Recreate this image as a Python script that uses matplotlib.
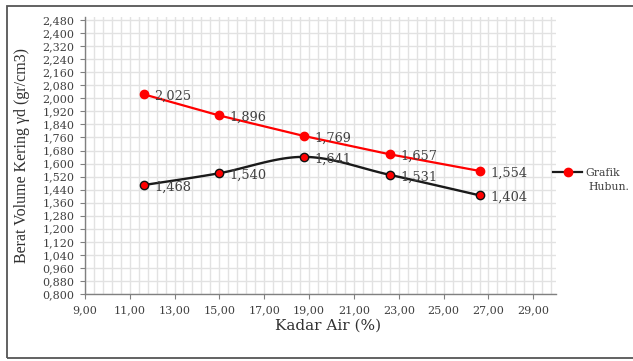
import numpy as np
import matplotlib
matplotlib.use("Agg")
import matplotlib.pyplot as plt
from matplotlib.ticker import FixedLocator, FuncFormatter
from matplotlib.patches import Rectangle
from matplotlib.lines import Line2D

kadar_air = [11.63, 14.97, 18.78, 22.59, 26.63]
gd_zav = [2.025, 1.896, 1.769, 1.657, 1.554]
gd_hub = [1.468, 1.540, 1.641, 1.531, 1.404]
legend_label = ["Grafik", "Hubun."]
xlabel = "Kadar Air (%)"
ylabel = "Berat Volume Kering γd (gr/cm3)"

plt.rcParams['font.family'] = ['DejaVu Serif', 'Liberation Serif']

def fmt(v, d):
    return f"{v:.{d}f}".replace(".", ",")

def catmull(x, y, n=30):
    x = np.asarray(x, float); y = np.asarray(y, float)
    P = np.column_stack([x, y])
    P = np.vstack([P[0], P, P[-1]])
    out = []
    for i in range(1, len(P) - 2):
        p0, p1, p2, p3 = P[i-1], P[i], P[i+1], P[i+2]
        t = np.linspace(0, 1, n)[:, None]
        seg = 0.5 * ((2*p1) + (-p0 + p2)*t + (2*p0 - 5*p1 + 4*p2 - p3)*t**2 + (-p0 + 3*p1 - 3*p2 + p3)*t**3)
        out.append(seg)
    out = np.vstack(out)
    return out[:, 0], out[:, 1]

fig = plt.figure(figsize=(6.33, 3.61), dpi=100)
ax = fig.add_axes([0.134, 0.186, 0.744, 0.767])

ax.set_xlim(9, 30)
ax.set_ylim(0.8, 2.5)
ax.set_xticks(np.arange(9, 29.01, 2))
ax.xaxis.set_minor_locator(FixedLocator(np.arange(9, 30.01, 0.4)))
ax.set_yticks(np.arange(0.8, 2.4801, 0.08))
ax.xaxis.set_major_formatter(FuncFormatter(lambda v, p: fmt(v, 2)))
ax.yaxis.set_major_formatter(FuncFormatter(lambda v, p: fmt(v, 3)))

gc = '#e2e2e2'
ax.grid(True, which='minor', axis='x', color=gc, lw=1.0)
ax.grid(True, which='major', axis='x', color=gc, lw=1.0)
ax.grid(True, which='major', axis='y', color=gc, lw=1.0)
ax.set_axisbelow(True)
for s in ['top', 'right']:
    ax.spines[s].set_visible(False)
for s in ['left', 'bottom']:
    ax.spines[s].set_color('#808080')
    ax.spines[s].set_linewidth(1.0)
ax.tick_params(which='major', length=3.5, color='#808080', labelsize=8, labelcolor='#404040')
ax.tick_params(axis='y', pad=4)
ax.tick_params(axis='x', pad=4.5)
ax.tick_params(which='minor', length=0)

# red series (straight)
ax.plot(kadar_air, gd_zav, color='#ff0000', lw=1.6, marker='o', ms=6,
        mfc='#ff0000', mec='#ff0000', zorder=3)
# black series (smoothed)
sx, sy = catmull(kadar_air, gd_hub)
ax.plot(sx, sy, color='#1a1a1a', lw=1.7, zorder=3)
ax.plot(kadar_air, gd_hub, ls='none', marker='o', ms=6, mfc='#ff0000',
        mec='#111111', mew=1.0, zorder=4)

for x, y in zip(kadar_air, gd_zav):
    ax.annotate(fmt(y, 3), (x, y), xytext=(7.5, -1.5), textcoords='offset points',
                va='center', ha='left', fontsize=9.3, color='#404040')
for x, y in zip(kadar_air, gd_hub):
    ax.annotate(fmt(y, 3), (x, y), xytext=(7.5, -1.5), textcoords='offset points',
                va='center', ha='left', fontsize=9.3, color='#404040')

ax.set_xlabel(xlabel, fontsize=11, color='#303030')
ax.xaxis.set_label_coords(0.516, -0.09)
ax.set_ylabel(ylabel, fontsize=11.5, color='#303030', family=['Liberation Serif', 'DejaVu Serif'])
ax.yaxis.set_label_coords(-0.117, 0.5)

h = Line2D([], [], color='#1a1a1a', lw=1.6, marker='o', ms=6, mfc='#ff0000', mec='#ff0000')
fig.legend([h], [legend_label[0]], loc='center left', bbox_to_anchor=(553/633, 1 - 172.5/361),
           frameon=False, fontsize=7.8, handlelength=2.7, handletextpad=0.3,
           labelcolor='#404040', borderaxespad=0, borderpad=0)
fig.text(588/633, 1 - 187/361, legend_label[1], fontsize=7.8, color='#404040',
         va='center', ha='left')

fig.patches.append(Rectangle((7/633, 1 - 358/361), 1.0, 352/361, transform=fig.transFigure,
                             fill=False, ec='#555555', lw=1.3))

fig.savefig("out.png", dpi=100)
